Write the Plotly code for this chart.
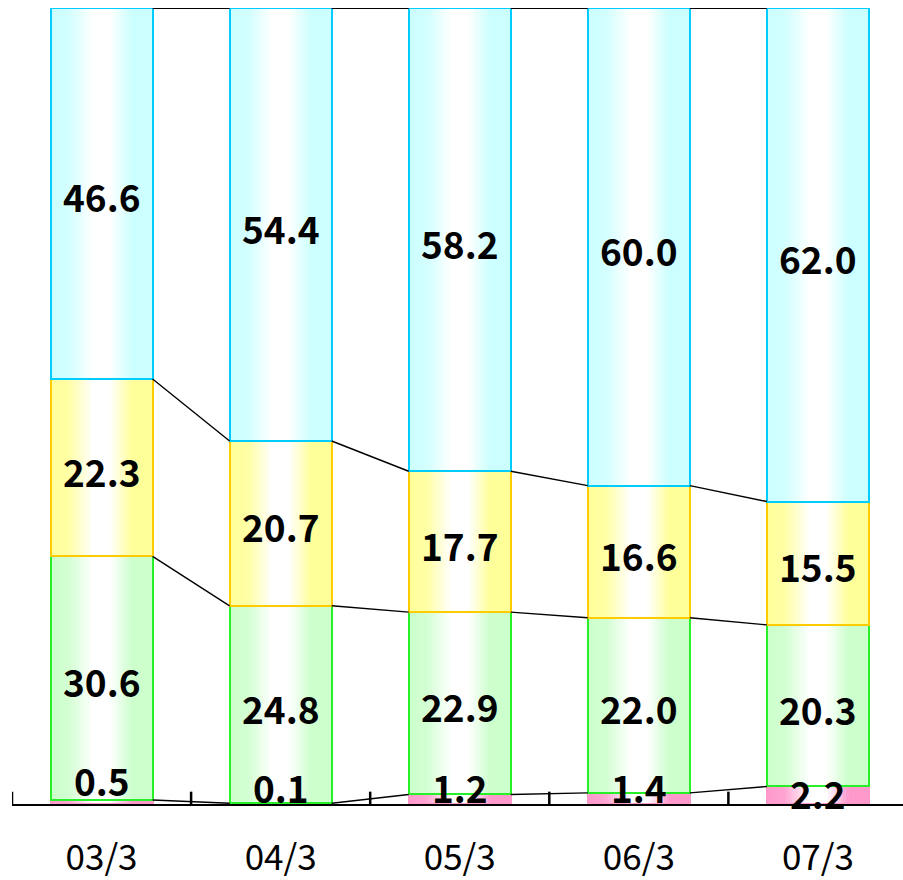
import plotly.graph_objects as go

# Fiscal year-end periods
categories = ["03/3", "04/3", "05/3", "06/3", "07/3"]

# Composition shares (%) stacked bottom to top
pink_vals = [0.5, 0.1, 1.2, 1.4, 2.2]
green_vals = [30.6, 24.8, 22.9, 22.0, 20.3]
yellow_vals = [22.3, 20.7, 17.7, 16.6, 15.5]
cyan_vals = [46.6, 54.4, 58.2, 60.0, 62.0]

series = [
    # (values, fill rgb, border colour, label pixel shift)
    (pink_vals, (255, 153, 204), "rgb(255,153,204)", [22, 17, 12, 11, 2]),
    (green_vals, (204, 255, 204), "rgb(40,240,40)", [-3] * 5),
    (yellow_vals, (255, 255, 153), "rgb(255,204,0)", [-3] * 5),
    (cyan_vals, (204, 255, 255), "rgb(0,204,255)", [-3] * 5),
]

BAR_W = 0.57
N_STRIPS = 40
TICK_H = 1.55  # height of the boundary tick marks, in axis units
# horizontal gradient profile: colour at left, white near the middle, colour to the right
KNOTS_T = [0.0, 0.18, 0.42, 0.58, 0.8, 1.0]
KNOTS_I = [1.0, 0.88, 0.0, 0.0, 1.0, 1.0]


def intensity(t):
    for k in range(len(KNOTS_T) - 1):
        t0, t1 = KNOTS_T[k], KNOTS_T[k + 1]
        if t0 <= t <= t1:
            a = (t - t0) / (t1 - t0) if t1 > t0 else 0
            return KNOTS_I[k] + a * (KNOTS_I[k + 1] - KNOTS_I[k])
    return KNOTS_I[-1]


def mix(rgb, s):
    r, g, b = (round(255 + (c - 255) * s) for c in rgb)
    return f"rgb({r},{g},{b})"


fig = go.Figure()

bases = [0.0] * len(categories)
levels = []
annotations = []
for vals, rgb, border, shifts in series:
    seg_base = list(bases)
    # gradient fill built from narrow vertical strips
    sw = BAR_W / N_STRIPS
    for k in range(N_STRIPS):
        t = (k + 0.5) / N_STRIPS
        fig.add_trace(go.Bar(
            x=categories, y=vals, base=seg_base,
            offset=-BAR_W / 2 + k * sw, width=sw * 1.1,
            marker=dict(color=mix(rgb, intensity(t)), line=dict(width=0)),
            hoverinfo="skip", showlegend=False,
        ))
    # segment outline
    fig.add_trace(go.Bar(
        x=categories, y=vals, base=seg_base, width=BAR_W,
        marker=dict(color="rgba(0,0,0,0)", line=dict(color=border, width=2)),
        hoverinfo="skip", showlegend=False,
    ))
    for i, v in enumerate(vals):
        annotations.append(dict(
            x=i, y=seg_base[i] + v / 2, xref="x2", yref="y",
            text=f"{v:.1f}", showarrow=False, yshift=shifts[i],
            font=dict(family="Noto Sans CJK JP", size=37, color="black", weight="bold"),
        ))
    bases = [b + v for b, v in zip(bases, vals)]
    levels.append(list(bases))

# connector lines between neighbouring bars at each segment boundary
for li, lev in enumerate(levels):
    xs, ys = [], []
    for i in range(len(categories) - 1):
        xs += [i + BAR_W / 2, i + 1 - BAR_W / 2, None]
        ys += [lev[i], lev[i + 1], None]
    fig.add_trace(go.Scatter(
        x=xs, y=ys, xaxis="x2", mode="lines",
        line=dict(color="black", width=2.2 if li == len(levels) - 1 else 1.4),
        hoverinfo="skip", showlegend=False,
    ))

X_RANGE = [-0.5, 4.475]

# short upward tick marks on the category boundaries
tx, ty = [], []
for i in range(len(categories)):
    b = i - 0.5
    tx += [b, b, None]
    ty += [0, TICK_H, None]
fig.add_trace(go.Scatter(
    x=tx, y=ty, xaxis="x2", mode="lines",
    line=dict(color="black", width=2.5),
    hoverinfo="skip", showlegend=False,
))

fig.update_layout(
    width=903, height=880,
    margin=dict(l=12, r=0, t=8, b=76),
    paper_bgcolor="white", plot_bgcolor="white",
    barmode="overlay", bargap=0,
    annotations=annotations,
    xaxis=dict(
        type="category", range=X_RANGE, ticks="",
        showline=True, linecolor="black", linewidth=2, layer="above traces",
        showgrid=False, zeroline=False, automargin=False,
        ticklabelstandoff=22,
        tickfont=dict(family="Noto Sans CJK JP", size=35, color="black"),
    ),
    xaxis2=dict(
        overlaying="x", anchor="y", range=X_RANGE, visible=False,
    ),
    yaxis=dict(range=[0, 100], visible=False, showgrid=False, zeroline=False,
               automargin=False),
)

fig.write_html("out.html")
